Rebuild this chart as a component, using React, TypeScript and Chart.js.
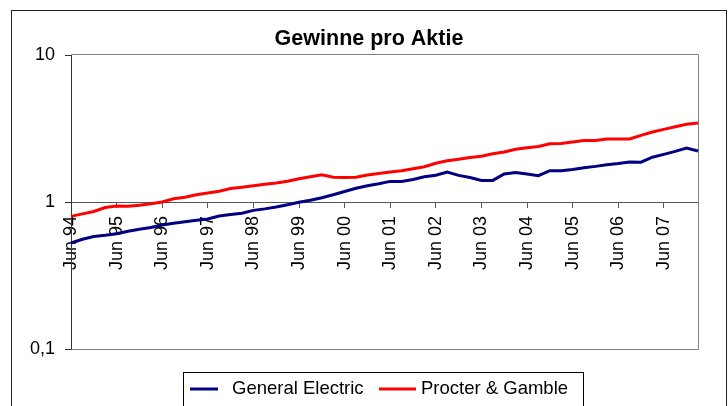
import React, { useEffect, useRef } from "react";
import { Chart, registerables } from "chart.js";

Chart.register(...registerables);

const quarters = [
  "Jun 94", "Sep 94", "Dez 94", "Mrz 95",
  "Jun 95", "Sep 95", "Dez 95", "Mrz 96",
  "Jun 96", "Sep 96", "Dez 96", "Mrz 97",
  "Jun 97", "Sep 97", "Dez 97", "Mrz 98",
  "Jun 98", "Sep 98", "Dez 98", "Mrz 99",
  "Jun 99", "Sep 99", "Dez 99", "Mrz 00",
  "Jun 00", "Sep 00", "Dez 00", "Mrz 01",
  "Jun 01", "Sep 01", "Dez 01", "Mrz 02",
  "Jun 02", "Sep 02", "Dez 02", "Mrz 03",
  "Jun 03", "Sep 03", "Dez 03", "Mrz 04",
  "Jun 04", "Sep 04", "Dez 04", "Mrz 05",
  "Jun 05", "Sep 05", "Dez 05", "Mrz 06",
  "Jun 06", "Sep 06", "Dez 06", "Mrz 07",
  "Jun 07", "Sep 07", "Dez 07", "Mrz 08",
];

const labelEvery = 4;

const generalElectric = [
  0.526, 0.558, 0.583, 0.594, 0.609, 0.633, 0.653, 0.671, 0.697, 0.717,
  0.735, 0.752, 0.767, 0.804, 0.822, 0.839, 0.877, 0.898, 0.926, 0.959,
  0.995, 1.029, 1.07, 1.121, 1.179, 1.241, 1.291, 1.332, 1.381, 1.381,
  1.422, 1.486, 1.522, 1.6, 1.517, 1.468, 1.403, 1.403, 1.55, 1.59,
  1.55, 1.51, 1.633, 1.633, 1.664, 1.712, 1.747, 1.794, 1.828, 1.871,
  1.865, 2.018, 2.108, 2.209, 2.33, 2.223,
];

const procterGamble = [
  0.798, 0.83, 0.862, 0.918, 0.939, 0.936, 0.951, 0.974, 1.0, 1.053,
  1.078, 1.121, 1.151, 1.184, 1.235, 1.261, 1.291, 1.322, 1.347, 1.385,
  1.44, 1.486, 1.533, 1.475, 1.47, 1.475, 1.526, 1.563, 1.6, 1.633,
  1.685, 1.739, 1.836, 1.91, 1.955, 2.008, 2.049, 2.131, 2.188, 2.287,
  2.341, 2.389, 2.492, 2.5, 2.559, 2.624, 2.624, 2.683, 2.683, 2.683,
  2.839, 2.994, 3.118, 3.253, 3.383, 3.447,
];

const yTicks = [0.1, 1, 10];
const yTickLabels = ["0,1", "1", "10"];

const seriesNames = ["General Electric", "Procter & Gamble"];
const seriesColors = ["#000080", "#FF0000"];
const titleText = "Gewinne pro Aktie";

const FONT = "'Liberation Sans', Arial, Helvetica, sans-serif";

const framePlugin = {
  id: "excelFrame",
  beforeDatasetsDraw(chart: any) {
    const { ctx, chartArea: a } = chart;
    ctx.save();
    ctx.strokeStyle = "#808080";
    ctx.lineWidth = 1;
    ctx.beginPath();
    ctx.moveTo(Math.round(a.left) + 0.5, Math.round(a.top) - 0.5);
    ctx.lineTo(Math.round(a.right) + 0.5, Math.round(a.top) - 0.5);
    ctx.lineTo(Math.round(a.right) + 0.5, Math.round(a.bottom) + 0.5);
    ctx.lineTo(Math.round(a.left) + 0.5, Math.round(a.bottom) + 0.5);
    ctx.stroke();
    ctx.restore();
  },
  afterDraw(chart: any) {
    const { ctx } = chart;
    ctx.save();
    // outer chart frame
    ctx.strokeStyle = "#222";
    ctx.lineWidth = 1;
    ctx.strokeRect(11.5, 10.5, 715, 420);
    // legend box
    ctx.strokeStyle = "#000";
    ctx.strokeRect(183.5, 372.5, 400, 40);
    const items = [
      { x0: 190, x1: 218, tx: 232 },
      { x0: 379, x1: 416, tx: 421 },
    ];
    ctx.font = `18.5px ${FONT}`;
    ctx.textBaseline = "alphabetic";
    ctx.textAlign = "left";
    chart.data.datasets.forEach((ds: any, i: number) => {
      const it = items[i];
      ctx.strokeStyle = ds.borderColor;
      ctx.lineWidth = 3;
      ctx.beginPath();
      ctx.moveTo(it.x0, 389);
      ctx.lineTo(it.x1, 389);
      ctx.stroke();
      ctx.fillStyle = "#000";
      ctx.fillText(ds.label, it.tx, 393.5);
    });
    ctx.restore();
  },
};

export default function App() {
  const canvasRef = useRef<HTMLCanvasElement | null>(null);

  useEffect(() => {
    const canvas = canvasRef.current;
    if (!canvas) return;
    Chart.defaults.font.family = FONT;
    const chart = new Chart(canvas, {
      type: "line",
      data: {
        labels: quarters,
        datasets: [
          {
            label: seriesNames[0],
            data: generalElectric,
            borderColor: seriesColors[0],
            backgroundColor: seriesColors[0],
            borderWidth: 3,
            pointRadius: 0,
            tension: 0,
            fill: false,
          },
          {
            label: seriesNames[1],
            data: procterGamble,
            borderColor: seriesColors[1],
            backgroundColor: seriesColors[1],
            borderWidth: 3,
            pointRadius: 0,
            tension: 0,
            fill: false,
          },
        ],
      },
      options: {
        responsive: false,
        animation: false,
        devicePixelRatio: 1,
        layout: { padding: { left: 10, right: 0, top: 0, bottom: 57 } },
        plugins: {
          legend: { display: false },
          tooltip: { enabled: false },
          title: {
            display: true,
            text: titleText,
            color: "#000",
            font: { family: FONT, size: 21.5, weight: "bold", lineHeight: 1.2 },
            padding: { top: 26, bottom: 3.2 },
          },
        },
        scales: {
          x: {
            type: "category",
            position: { y: 1 } as any,
            offset: false,
            grid: {
              drawOnChartArea: false,
              drawTicks: true,
              tickLength: 5,
              color: (ctx: any) =>
                ctx.index % labelEvery === 0 ? "#555" : "rgba(0,0,0,0)",
            },
            border: { display: true, color: "#555", width: 1 },
            ticks: {
              autoSkip: false,
              minRotation: 90,
              maxRotation: 90,
              padding: 9,
              color: "#000",
              font: { family: FONT, size: 18 },
              callback: (_v: any, i: number) =>
                i % labelEvery === 0 ? quarters[i] : "",
            },
            afterFit: (s: any) => {
              s.paddingLeft = 0;
              s.paddingRight = 30;
            },
          },
          y: {
            type: "logarithmic",
            position: "left",
            min: 0.1,
            max: 10,
            grid: {
              drawOnChartArea: false,
              drawTicks: true,
              tickLength: 6,
              color: "#333",
            },
            border: { display: true, color: "#333", width: 1 },
            afterBuildTicks: (s: any) => {
              s.ticks = yTicks.map((v) => ({ value: v }));
            },
            ticks: {
              padding: 10,
              color: "#000",
              font: { family: FONT, size: 18 },
              callback: (_v: any, i: number) => yTickLabels[i],
            },
            afterFit: (s: any) => {
              s.width = 61;
            },
          },
        },
      },
      plugins: [framePlugin],
    } as any);
    return () => chart.destroy();
  }, []);

  return (
    <div style={{ position: "absolute", left: 0, top: 0, width: 728, height: 406, background: "#fff" }}>
      <canvas ref={canvasRef} width={728} height={406} style={{ display: "block" }} />
    </div>
  );
}
